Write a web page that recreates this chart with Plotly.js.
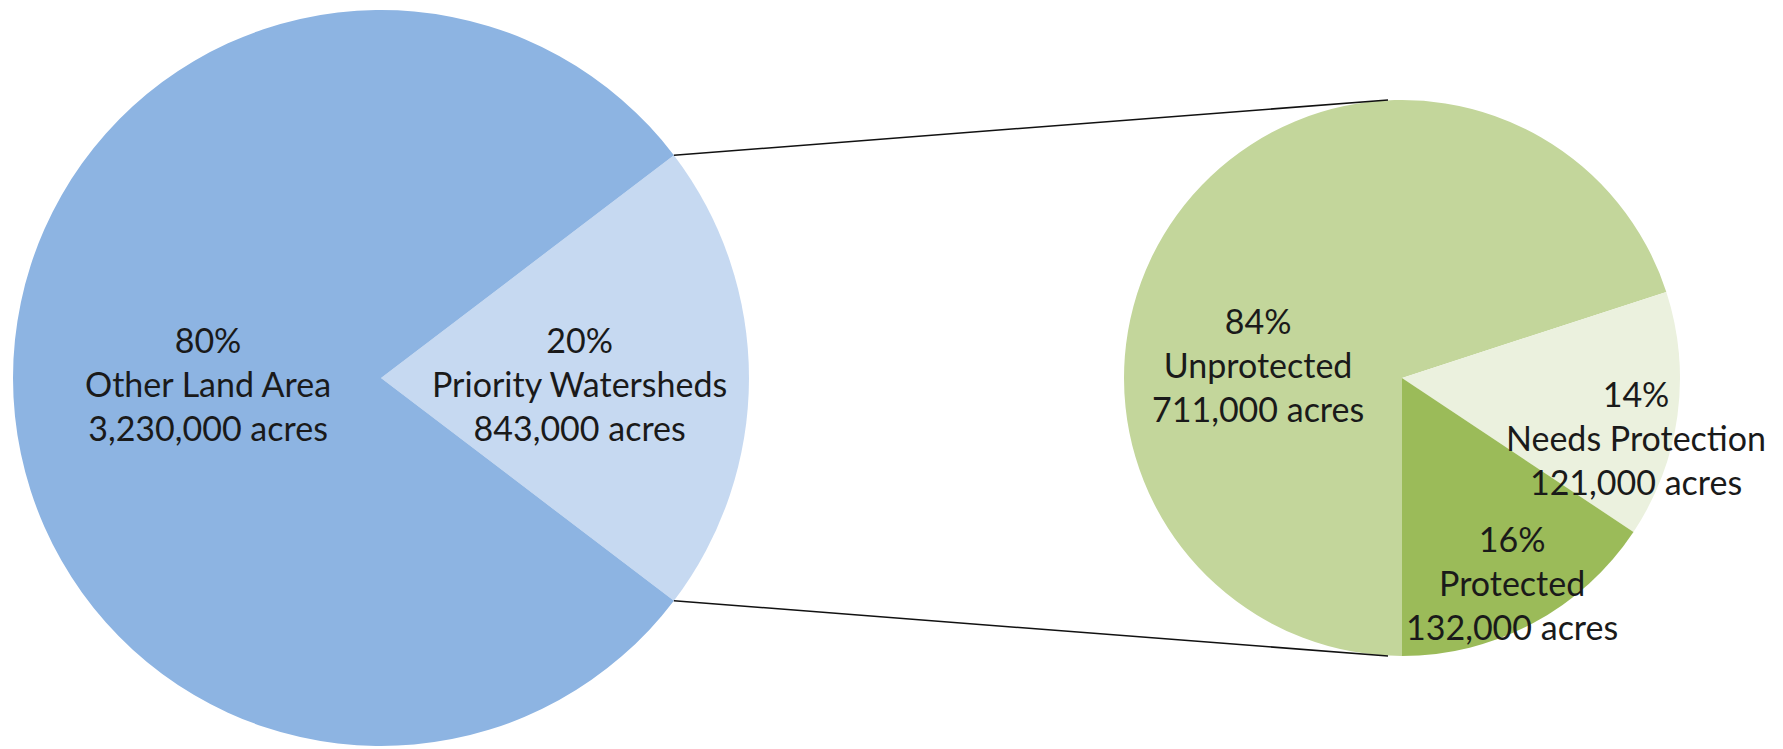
<!DOCTYPE html>
<html>
<head>
<meta charset="utf-8">
<script src="https://cdn.plot.ly/plotly-3.0.1.min.js"></script>
<style>
  html, body { margin: 0; padding: 0; background: #ffffff; }
  #chart { width: 1783px; height: 749px; }
</style>
</head>
<body>
<div id="chart"></div>
<script>
// ---- data ----
var mainLabels = ['Priority Watersheds', 'Other Land Area'];
var mainAcres  = [843000, 3230000];
var mainPct    = ['20%', '80%'];

var subLabels = ['Unprotected', 'Needs Protection', 'Protected'];
var subAcres  = [711000, 121000, 132000];
var subPct    = ['84%', '14%', '16%'];

// ---- styles / geometry ----
var W = 1783, H = 749;
var mainColors = ['#C6D9F1', '#8DB4E2'];
var subColors  = ['#C3D69B', '#EBF1DE', '#9BBB59'];
var textColor = '#1a1a1a';
var fontFamily = 'Lato, "Open Sans", sans-serif';
var fontSize = 34;

var L = {cx: 381, cy: 378, r: 368};
var R = {cx: 1402, cy: 378, r: 278};

function domainOf(c) {
  return {
    x: [(c.cx - c.r) / W, (c.cx + c.r) / W],
    y: [(H - c.cy - c.r) / H, (H - c.cy + c.r) / H]
  };
}

// the unprotected wedge shown excludes the part that needs protection
var subValues = [subAcres[0] - subAcres[1], subAcres[1], subAcres[2]];

var mainTotal = mainAcres[0] + mainAcres[1];
var mainFrac = mainAcres[0] / mainTotal;
var mainRotation = 90 - mainFrac * 180;

function fmt(n) { return n.toLocaleString('en-US'); }

var traceMain = {
  type: 'pie',
  labels: mainLabels,
  values: mainAcres,
  sort: false,
  direction: 'clockwise',
  rotation: mainRotation,
  textinfo: 'none',
  hoverinfo: 'none',
  marker: {colors: mainColors, line: {width: 0}},
  domain: domainOf(L),
  showlegend: false
};

// clockwise from 6 o'clock: Unprotected over the left and top, then Needs Protection, then Protected back to 6 o'clock
var traceSub = {
  type: 'pie',
  labels: subLabels,
  values: subValues,
  sort: false,
  direction: 'clockwise',
  rotation: 180,
  textinfo: 'none',
  hoverinfo: 'none',
  marker: {colors: subColors, line: {width: 0}},
  domain: domainOf(R),
  showlegend: false
};

// label anchor positions (pixels in the picture)
var mainLabelPos = [[579, 383], [208, 383]];
var subLabelPos  = [[1258, 364], [1636, 437], [1512, 582]];

var annotations = [];
function addLabel(pct, label, acres, pos) {
  annotations.push({
    xref: 'paper', yref: 'paper',
    x: pos[0] / W, y: 1 - pos[1] / H,
    xanchor: 'center', yanchor: 'middle',
    text: pct + '<br>' + label + '<br>' + fmt(acres) + ' acres',
    showarrow: false,
    align: 'center',
    font: {family: fontFamily, size: fontSize, color: textColor}
  });
}
for (var i = 0; i < mainLabels.length; i++) addLabel(mainPct[i], mainLabels[i], mainAcres[i], mainLabelPos[i]);
for (var j = 0; j < subLabels.length; j++) addLabel(subPct[j], subLabels[j], subAcres[j], subLabelPos[j]);

// connector lines from the edges of the priority wedge to the top/bottom of the second pie
function pt(c, deg) {
  var a = deg * Math.PI / 180;
  return [c.cx + c.r * Math.sin(a), c.cy - c.r * Math.cos(a)];
}
var pTop = pt(L, mainRotation);
var pBot = pt(L, mainRotation + mainFrac * 360);
var qTop = [R.cx - 14, R.cy - R.r];
var qBot = [R.cx - 14, R.cy + R.r];
function line(p, q) {
  return {
    type: 'line', xref: 'paper', yref: 'paper',
    x0: p[0] / W, y0: 1 - p[1] / H, x1: q[0] / W, y1: 1 - q[1] / H,
    line: {color: '#111111', width: 1.5}
  };
}

var layout = {
  width: W, height: H,
  margin: {l: 0, r: 0, t: 0, b: 0, pad: 0},
  paper_bgcolor: '#ffffff',
  plot_bgcolor: '#ffffff',
  showlegend: false,
  hovermode: false,
  annotations: annotations,
  shapes: [line(pTop, qTop), line(pBot, qBot)]
};

Plotly.newPlot('chart', [traceMain, traceSub], layout, {displayModeBar: false, staticPlot: true});
</script>
</body>
</html>
